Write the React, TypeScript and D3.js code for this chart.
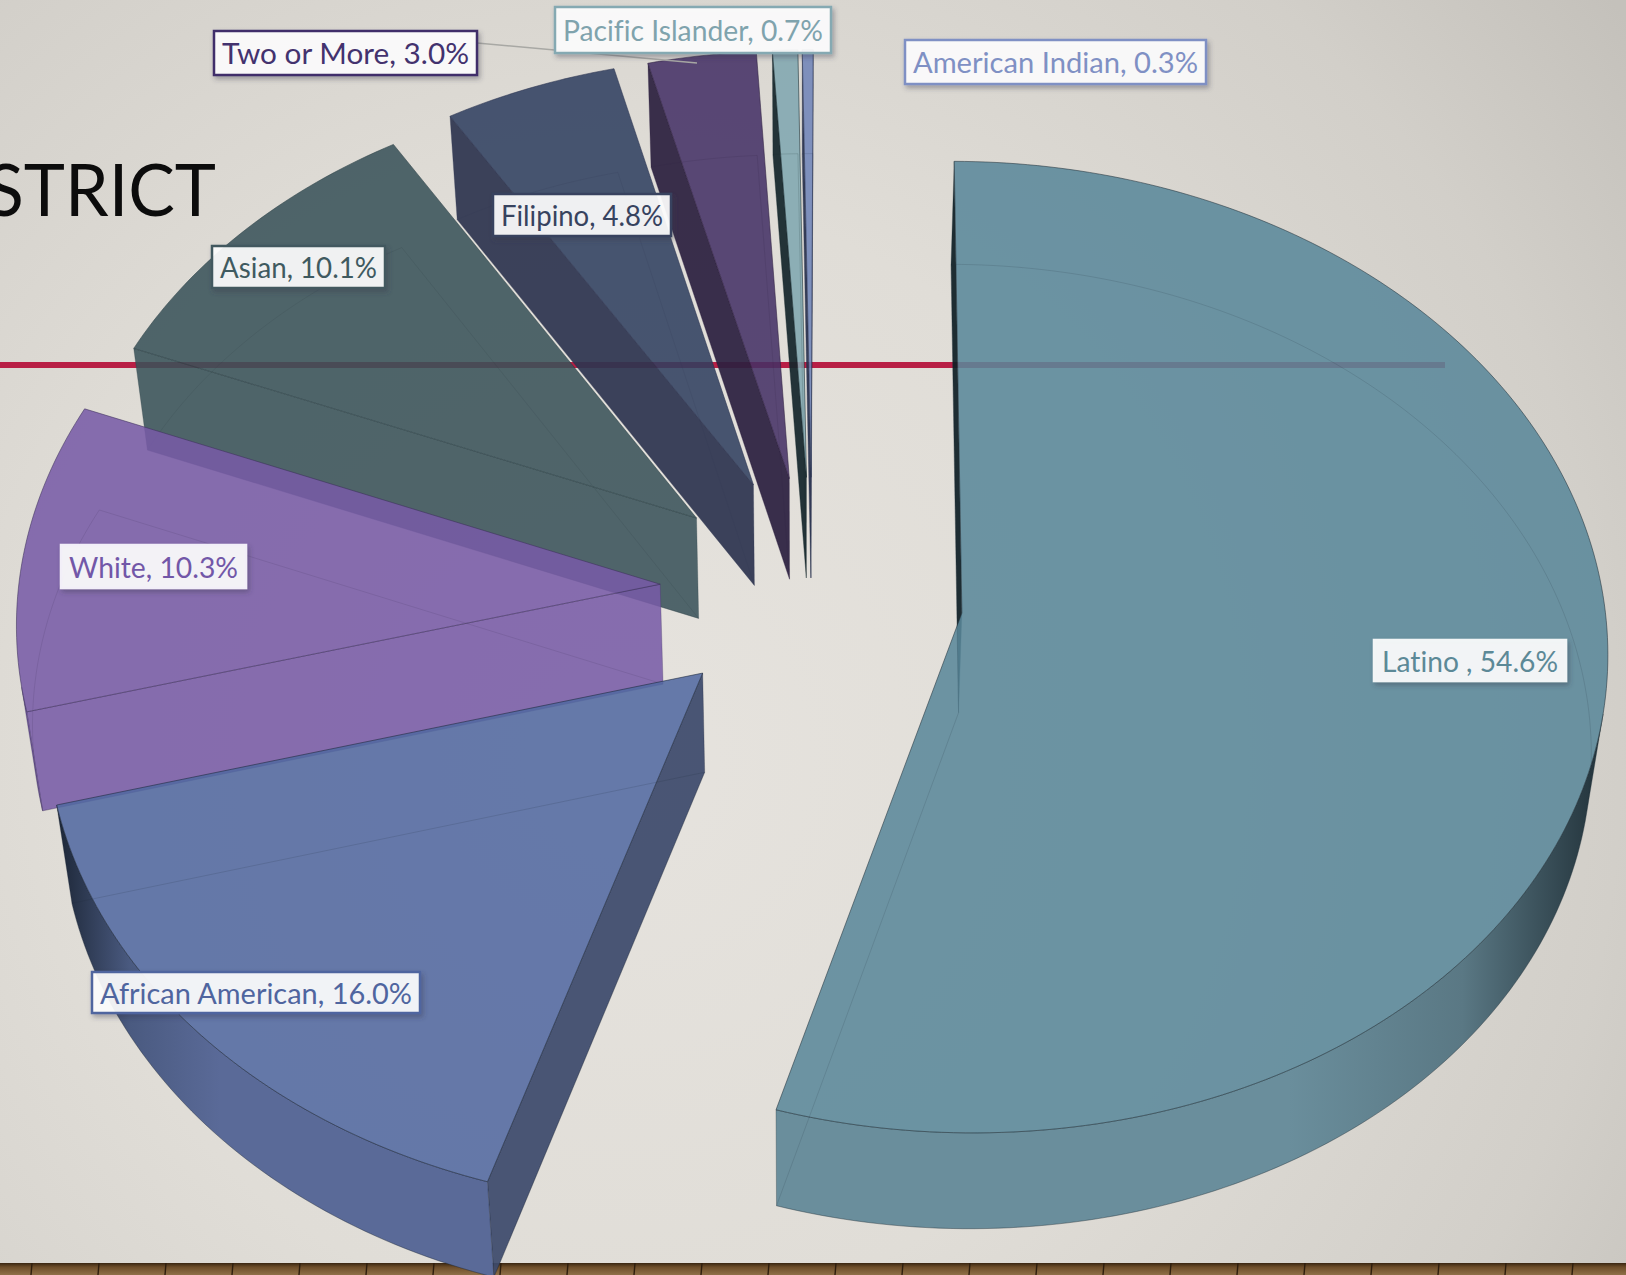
import React from "react";
import * as d3 from "d3";

const categories = ["Latino", "African American", "White", "Asian", "Filipino", "Two or More", "Pacific Islander", "American Indian"];
const labelNames = ["Latino ", "African American", "White", "Asian", "Filipino", "Two or More", "Pacific Islander", "American Indian"];
const values = [54.6, 16.0, 10.3, 10.1, 4.8, 3.0, 0.7, 0.3];

const topColors = ["#5a889a", "#5168a1", "#775ba7", "#385159", "#2f3f5f", "#443065", "#7fa6b0", "#6f84b8"];
const cutColors = ["#0f1f26", "#3d4a6c", "#775ba7", "#385159", "#2e3550", "#2c2040", "#14262b", "#2a3350"];
const cutAlpha = [0.93, 0.93, 0.87, 0.87, 0.93, 0.93, 0.93, 0.93];
const rimLight = ["#6a8e9c", "#5a6a98", "#6d5499", "#3f5a62", "#354566", "#4a3169", "#7fa6b0", "#6f84b8"];
const rimMid = ["#5a7884", "#4a5a80", "#5a4884", "#34494f", "#2e3c59", "#3c2a58", "#5f7e89", "#4a5a80"];
const rimDark = ["#22323a", "#1c2636", "#3c2f5a", "#2c3f45", "#2c3350", "#2f2040", "#14262b", "#2a3350"];
const labelText = ["#5c8997", "#4f659f", "#7257a8", "#3f5a60", "#37435f", "#43326e", "#7fa3ad", "#7f90c4"];
const labelBorder = ["#f2f5f6", "#4f659f", "#f2eff8", "#42595f", "#37435f", "#3f2f6b", "#85a9b2", "#7f90c4"];
const labelBoxes = [
  [1374, 640, 192, 41],
  [92, 972, 328, 41],
  [61, 545, 185, 43],
  [212, 246, 173, 42],
  [493, 194, 178, 42],
  [214, 31, 263, 44],
  [555, 7, 276, 46],
  [905, 40, 301, 44],
];
// small per-slice adjustments of the exploded layout
const nudgeX = [0, -1, -3, -3, -2, -1, -1, -1];
const nudgeY = [-1, -3, -6, -7, -10, -9, -9, -9];
const radiusScale = [1, 1.008, 1, 0.985, 0.98, 0.98, 0.98, 0.98];
const endTrimDeg = [0.6, 0, 0, 0, 0, 0, 0, 0];

const W = 1626, H = 1275;
const CX = 813, CY = 597, SX = 642, SY = 481, K = 0.07, EXPLODE = 0.234;
const START_DEG = 0.2;

const rad = (d: number) => (d * Math.PI) / 180;
const project = (u: number, v: number): [number, number] => {
  const s = 1 / (1 + K * v);
  return [CX + SX * u * s, CY - SY * v * s];
};
const lower = ([x, y]: [number, number]): [number, number] => [
  x + 0.0205 * (800 - x),
  y + 103 - 0.0074 * (y - 161),
];
const line = d3.line<[number, number]>();
const area2 = (a: [number, number], b: [number, number], c: [number, number]) =>
  (b[0] - a[0]) * (c[1] - a[1]) - (b[1] - a[1]) * (c[0] - a[0]);

const arcs = d3
  .pie<number>()
  .sort(null)
  .startAngle(rad(START_DEG))
  .endAngle(rad(START_DEG) + 2 * Math.PI)(values);

const slices = arcs.map((a, i) => {
  const mid = (a.startAngle + a.endAngle) / 2;
  const ou = EXPLODE * Math.sin(mid), ov = EXPLODE * Math.cos(mid);
  const endA = a.endAngle - rad(endTrimDeg[i]);
  const n = Math.max(2, Math.ceil(((endA - a.startAngle) * 180) / Math.PI));
  const thetas = d3.range(n + 1).map((j) => a.startAngle + ((endA - a.startAngle) * j) / n);
  const shift = ([x, y]: [number, number]): [number, number] => [x + nudgeX[i], y + nudgeY[i]];
  const r = radiusScale[i];
  const rimTop = thetas.map((t) => shift(project(ou + r * Math.sin(t), ov + r * Math.cos(t))));
  const rimBot = rimTop.map(lower);
  const apex = shift(project(ou, ov));
  const apexB = lower(apex);
  // rim segments facing the viewer
  const front: number[] = [];
  rimTop.forEach((p, j) => {
    if (j < n && area2(p, rimTop[j + 1], rimBot[j]) < 0) front.push(j);
  });
  const rimT: [number, number][] = [];
  const rimB: [number, number][] = [];
  if (front.length) {
    const j0 = front[0], j1 = front[front.length - 1] + 1;
    for (let j = j0; j <= j1; j++) {
      rimT.push(rimTop[j]);
      rimB.push(rimBot[j]);
    }
  }
  const cutA = [rimTop[0], apex, apexB, rimBot[0]] as [number, number][];
  const cutB = [apex, rimTop[n], rimBot[n], apexB] as [number, number][];
  const topFace = [apex, ...rimTop] as [number, number][];
  const botFace = [apexB, ...rimBot] as [number, number][];
  const cutAVisible = area2(cutA[0], cutA[1], cutA[2]) > 0;
  const cutBVisible = area2(cutB[0], cutB[1], cutB[2]) > 0;
  return { i, rimT, rimB, cutA, cutB, topFace, botFace, cutAVisible, cutBVisible };
});

// painted from the back of the pie to the front
const drawOrder = [7, 6, 5, 4, 3, 2, 1, 0];
const ALPHA = 0.87;
const plankEdges = d3.range(32, W, 67);

export default function App() {
  return (
    <svg
      width={W}
      height={H}
      viewBox={`0 0 ${W} ${H}`}
      style={{ position: "absolute", left: 0, top: 0, display: "block" }}
      fontFamily="Lato, 'Open Sans', sans-serif"
    >
      <defs>
        <radialGradient id="bg" gradientUnits="userSpaceOnUse" cx={620} cy={760} r={1250}>
          <stop offset="0" stopColor="#e6e3de" />
          <stop offset="0.45" stopColor="#e0ddd7" />
          <stop offset="0.8" stopColor="#d2cfc9" />
          <stop offset="1" stopColor="#c4c1bb" />
        </radialGradient>
        <linearGradient id="wood" x1="0" x2="0" y1="0" y2="1">
          <stop offset="0" stopColor="#3a2612" />
          <stop offset="0.35" stopColor="#6e4e2a" />
          <stop offset="1" stopColor="#8f7048" />
        </linearGradient>
        <filter id="shadow" x="-10%" y="-20%" width="125%" height="150%">
          <feDropShadow dx="2" dy="3" stdDeviation="2.5" floodColor="#3a3a4a" floodOpacity="0.4" />
        </filter>
        {slices.map((s) => {
          if (!s.rimT.length) return null;
          const xs = s.rimT.map((p) => p[0]);
          const lo = d3.min(xs)!, hi = d3.max(xs)!;
          const darkRight = s.i === 0;
          return (
            <linearGradient
              key={s.i}
              id={`rim${s.i}`}
              gradientUnits="userSpaceOnUse"
              x1={darkRight ? hi : lo}
              x2={darkRight ? lo : hi}
              y1={0}
              y2={0}
            >
              <stop offset="0" stopColor={rimDark[s.i]} />
              <stop offset={0.17} stopColor={rimMid[s.i]} />
              <stop offset={0.38} stopColor={rimLight[s.i]} />
              <stop offset="1" stopColor={rimLight[s.i]} />
            </linearGradient>
          );
        })}
      </defs>

      <rect x={0} y={0} width={W} height={H} fill="url(#bg)" />
      <rect x={0} y={1263} width={W} height={12} fill="url(#wood)" />
      {plankEdges.map((x, k) => (
        <line key={k} x1={x} x2={x - 1} y1={1263} y2={1275} stroke="#2e1e0e" strokeWidth={1.4} />
      ))}

      <text x={216} y={216} textAnchor="end" fontSize={72} fill="#0c0c0c" textLength={230} lengthAdjust="spacingAndGlyphs">
        STRICT
      </text>
      <rect x={0} y={362} width={1445} height={6} fill="#b81f45" />

      {drawOrder.map((idx) => {
        const s = slices[idx];
        return (
          <g key={idx}>
            {s.cutAVisible && <path d={line(s.cutA)! + "Z"} fill={cutColors[idx]} fillOpacity={cutAlpha[idx]} stroke={rimDark[idx]} strokeOpacity={0.35} strokeWidth={0.8} />}
            {s.cutBVisible && <path d={line(s.cutB)! + "Z"} fill={cutColors[idx]} fillOpacity={cutAlpha[idx]} stroke={rimDark[idx]} strokeOpacity={0.35} strokeWidth={0.8} />}
            {s.rimT.length > 1 && (
              <path
                d={line([...s.rimT, ...[...s.rimB].reverse()])! + "Z"}
                fill={`url(#rim${idx})`}
                stroke={rimDark[idx]}
                strokeOpacity={0.4}
                strokeWidth={0.8}
              />
            )}
            <path d={line(s.topFace)! + "Z"} fill={topColors[idx]} fillOpacity={ALPHA} stroke={rimDark[idx]} strokeOpacity={0.55} strokeWidth={1} strokeLinejoin="round" />
            <path d={line(s.botFace)! + "Z"} fill="none" stroke={rimDark[idx]} strokeOpacity={0.15} strokeWidth={1} />
          </g>
        );
      })}

      <line x1={477} y1={43} x2={697} y2={63} stroke="#a8a8a4" strokeWidth={1.5} />

      {labelBoxes.map((b, i) => (
        <g key={categories[i]}>
          <rect
            x={b[0]}
            y={b[1]}
            width={b[2]}
            height={b[3]}
            fill="#ffffff"
            fillOpacity={0.9}
            stroke={labelBorder[i]}
            strokeWidth={2.5}
            filter="url(#shadow)"
          />
          <text
            x={b[0] + 8}
            y={b[1] + b[3] / 2 + 11}
            fontSize={29}
            fill={labelText[i]}
            textLength={b[2] - 16}
            lengthAdjust="spacingAndGlyphs"
            style={{ fontVariantLigatures: "none" }}
          >
            {`${labelNames[i]}, ${values[i].toFixed(1)}%`}
          </text>
        </g>
      ))}
    </svg>
  );
}
